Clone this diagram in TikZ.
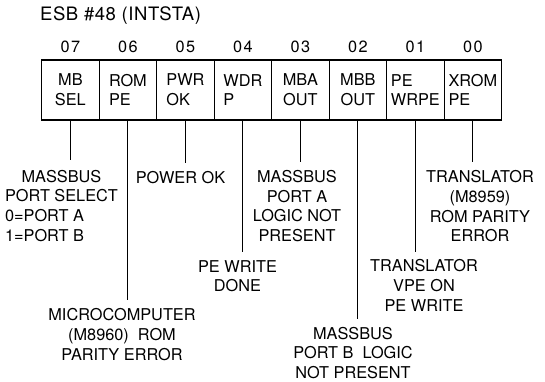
\documentclass[tikz,border=0pt]{standalone}
\usepackage{fontspec}
\setmainfont{TeX Gyre Heros}
\newfontfamily\titlefont[LetterSpace=3]{TeX Gyre Heros}
\newfontfamily\bitfont[LetterSpace=8]{TeX Gyre Heros}
\usetikzlibrary{calc}

\tikzset{
  cell/.style={draw, line width=1pt, minimum width=57.5pt, minimum height=60pt,
    inner sep=0pt, outer sep=0pt, align=left},
  bitno/.style={anchor=base, inner sep=0pt,
    font=\bitfont\fontsize{16.3}{19.7}\selectfont},
  note/.style={anchor=north, align=center, inner sep=0pt},
  wire/.style={line width=1pt, shorten >=8pt},
}

\begin{document}
\begin{tikzpicture}[x=1pt, y=-1pt, font=\fontsize{16.3}{19.7}\selectfont]
  \useasboundingbox (0,0) rectangle (545,382);
  \node[anchor=base west, inner sep=0pt,
    font=\titlefont\fontsize{18.5}{22}\selectfont] (title) at (40,20.7) {ESB \#48 (INTSTA)};
  % register cells, bit 07 on the left
  \node[cell, align=center] (b7) at (70.4,90) {MB\\SEL};
  \node[cell] (b6) at (127.9,90) {ROM\\PE};
  \node[cell] (b5) at (185.4,90) {PWR\\OK};
  \node[cell] (b4) at (242.9,90) {WDR\\P};
  \node[cell, align=center] (b3) at (300.4,90) {MBA\\OUT};
  \node[cell, align=center] (b2) at (357.9,90) {MBB\\OUT};
  \node[cell] (b1) at (415.4,90) {PE\\WRPE};
  \node[cell] (b0) at (472.9,90) {XROM\\PE};
  \draw[line width=1.6pt] (b7.north west) rectangle (b0.south east);
  % bit numbers
  \node[bitno] (n7) at ($(b7.north)+(0,-7.2)$) {07};
  \node[bitno] (n6) at ($(b6.north)+(0,-7.2)$) {06};
  \node[bitno] (n5) at ($(b5.north)+(0,-7.2)$) {05};
  \node[bitno] (n4) at ($(b4.north)+(0,-7.2)$) {04};
  \node[bitno] (n3) at ($(b3.north)+(0,-7.2)$) {03};
  \node[bitno] (n2) at ($(b2.north)+(0,-7.2)$) {02};
  \node[bitno] (n1) at ($(b1.north)+(0,-7.2)$) {01};
  \node[bitno] (n0) at ($(b0.north)+(0,-7.2)$) {00};
  % meanings
  \node[anchor=base, inner sep=0pt] (l7) at (61.5,182) {\begin{tabular}[t]{@{}l@{}}
    \multicolumn{1}{@{}c@{}}{MASSBUS}\\PORT SELECT\\0=PORT A\\1=PORT B\end{tabular}};
  \node[note] (l6) at (122,308.3) {MICROCOMPUTER\\(M8960)~~ROM\\PARITY ERROR};
  \node[note] (l5) at (180.5,171) {POWER OK};
  \node[note] (l4) at (237.5,260) {PE WRITE\\DONE};
  \node[note] (l3) at (297,170) {MASSBUS\\PORT A\\LOGIC NOT\\PRESENT};
  \node[note] (l2) at (353,326.8) {MASSBUS\\PORT B~~LOGIC\\NOT PRESENT};
  \node[note] (l1) at (424,259.5) {TRANSLATOR\\VPE ON\\PE WRITE};
  \node[note] (l0) at (480,170.3) {TRANSLATOR\\(M8959)\\ROM PARITY\\ERROR};
  \draw[wire] (b7.south) -- (b7.south |- l7.north);
  \draw[wire] (b6.south) -- (b6.south |- l6.north);
  \draw[wire] (b5.south) -- (b5.south |- l5.north);
  \draw[wire] (b4.south) -- (b4.south |- l4.north);
  \draw[wire] (b3.south) -- (b3.south |- l3.north);
  \draw[wire] (b2.south) -- (b2.south |- l2.north);
  \draw[wire] (b1.south) -- (b1.south |- l1.north);
  \draw[wire] (b0.south) -- (b0.south |- l0.north);
\end{tikzpicture}
\end{document}
